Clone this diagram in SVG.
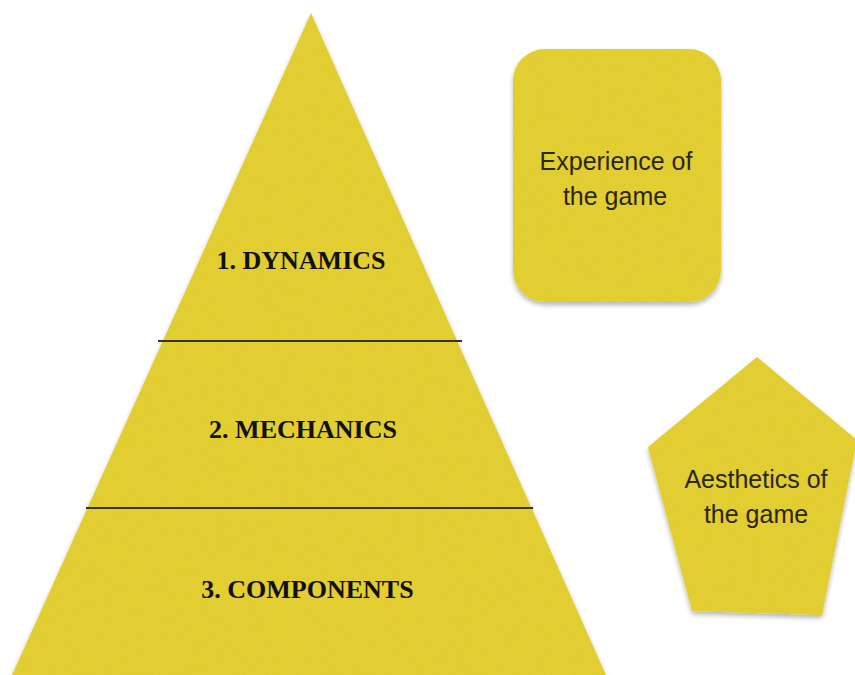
<svg xmlns="http://www.w3.org/2000/svg" width="855" height="675" viewBox="0 0 855 675">
  <defs>
    <filter id="felt" x="-5%" y="-5%" width="110%" height="115%">
      <feTurbulence type="fractalNoise" baseFrequency="0.9" numOctaves="2" seed="3" result="noise"/>
      <feColorMatrix in="noise" type="matrix" values="0 0 0 0 0  0 0 0 0 0  0 0 0 0 0  0 0 0 0.08 0" result="dark"/>
      <feComposite in="dark" in2="SourceGraphic" operator="in" result="tex"/>
      <feGaussianBlur in="SourceAlpha" stdDeviation="2.5" result="blur"/>
      <feOffset in="blur" dx="0" dy="3" result="off"/>
      <feComponentTransfer in="off" result="shadow"><feFuncA type="linear" slope="0.3"/></feComponentTransfer>
      <feMerge><feMergeNode in="shadow"/><feMergeNode in="SourceGraphic"/><feMergeNode in="tex"/></feMerge>
    </filter>
    <style>
      .shape { fill: #E6D234; }
      .div { stroke: #3a3520; stroke-width: 2.2; fill: none; }
      .tier { font-family: "Liberation Serif", "Times New Roman", serif; font-weight: bold; font-size: 26px; fill: #111; text-anchor: middle; }
      .lbl { font-family: "Liberation Sans", Arial, sans-serif; font-size: 25px; fill: #2a2610; text-anchor: middle; }
    </style>
  </defs>
  <rect width="855" height="675" fill="#ffffff"/>

  <g id="pyramid">
    <polygon class="shape" filter="url(#felt)" points="311,13 606,675 12,675"/>
    <line class="div" x1="158" y1="341" x2="462" y2="341"/>
    <line class="div" x1="86" y1="508" x2="533" y2="508"/>
  </g>

  <g id="tier-dynamics">
    <text class="tier" x="301" y="269">1. DYNAMICS</text>
  </g>
  <g id="tier-mechanics">
    <text class="tier" x="303" y="438">2. MECHANICS</text>
  </g>
  <g id="tier-components">
    <text class="tier" x="307.5" y="598">3. COMPONENTS</text>
  </g>

  <g id="experience">
    <rect class="shape" filter="url(#felt)" x="513" y="49" width="208" height="253" rx="32" ry="32"/>
    <text class="lbl" x="616" y="170">Experience of</text>
    <text class="lbl" x="615" y="205">the game</text>
  </g>

  <g id="aesthetics">
    <polygon class="shape" filter="url(#felt)" points="757,357 857,440 822,615 692,611 648,447"/>
    <text class="lbl" x="756" y="488">Aesthetics of</text>
    <text class="lbl" x="756" y="523">the game</text>
  </g>

  <g id="connectors"></g>
</svg>
